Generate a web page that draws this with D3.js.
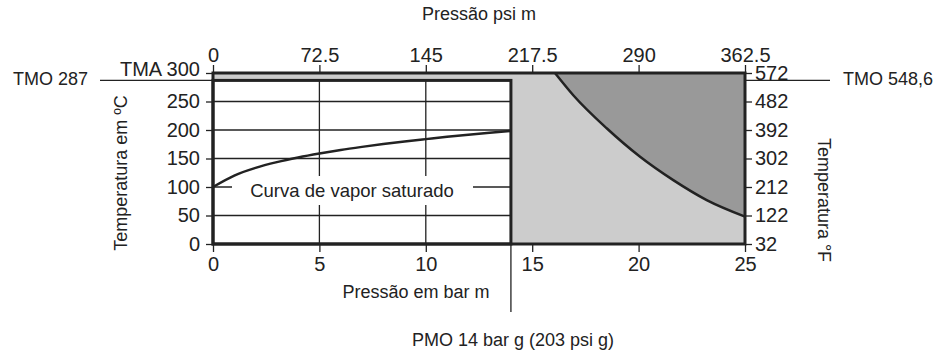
<!DOCTYPE html>
<html>
<head>
<meta charset="utf-8">
<script src="https://cdn.jsdelivr.net/npm/d3@7"></script>
<style>
  body { margin: 0; background: #fff; }
  svg { display: block; font-family: "Liberation Sans", Arial, sans-serif; }
  .axis text { font-size: 20px; fill: #222; }
  .axis line { stroke: #222; stroke-width: 1.3; }
  .axis path { display: none; }
</style>
</head>
<body>
<svg id="chart" width="943" height="354"></svg>
<script>
// saturated steam curve (bar g -> degC)
const satPressure = [0, 1, 2, 3, 4, 5, 6, 7, 8, 9, 10, 11, 12, 13, 14];
const satTemp = [100, 120, 133.5, 143.6, 151.8, 158.8, 165, 170.4, 175.4, 179.9, 184, 188, 191.6, 195, 198.3];

// limit curve bounding the dark region
const limPressure = [16.07, 16.93, 18.5, 20.07, 21.63, 23.2, 25];
const limTemp = [300, 261, 203, 153, 112, 77, 48];

const barTicks = [0, 5, 10, 15, 20, 25];
const psiTicks = [0, 72.5, 145, 217.5, 290, 362.5];
const celsiusTicks = [0, 50, 100, 150, 200, 250, 300];
const fahrenheitTicks = [32, 122, 212, 302, 392, 482, 572];

const pmo = 14;   // bar g
const tmo = 287;  // degC
const tma = 300;

const svg = d3.select('#chart');
const ink = '#222';

const x = d3.scaleLinear().domain([0, 25]).range([213, 745]);
const xPsi = d3.scaleLinear().domain([0, 362.5]).range([213, 745]);
const y = d3.scaleLinear().domain([0, 300]).range([244, 73]);
const yF = d3.scaleLinear().domain([32, 572]).range([244, 73]);

// background regions
svg.append('rect')
  .attr('x', x(0)).attr('y', y(tma))
  .attr('width', x(25) - x(0)).attr('height', y(0) - y(tma))
  .attr('fill', '#cccccc');

const area = d3.area()
  .x((d, i) => x(limPressure[i]))
  .y0(y(tma))
  .y1((d, i) => y(limTemp[i]))
  .curve(d3.curveMonotoneX);
svg.append('path').datum(limTemp).attr('d', area).attr('fill', '#999999');

svg.append('rect')
  .attr('x', x(0)).attr('y', y(tmo))
  .attr('width', x(pmo) - x(0)).attr('height', y(0) - y(tmo))
  .attr('fill', '#fff');

// grid inside working area
const grid = svg.append('g').attr('stroke', ink).attr('stroke-width', 1.3);
grid.selectAll('line.h').data([50, 100, 150, 200, 250]).join('line')
  .attr('x1', x(0)).attr('x2', x(pmo))
  .attr('y1', d => y(d)).attr('y2', d => y(d));
grid.selectAll('line.v').data([5, 10]).join('line')
  .attr('x1', d => x(d)).attr('x2', d => x(d))
  .attr('y1', y(tmo)).attr('y2', y(0));

// curve label with white box
svg.append('rect')
  .attr('x', 232).attr('y', 176).attr('width', 241).attr('height', 29)
  .attr('fill', '#fff');
svg.append('text')
  .attr('x', 352).attr('y', 197)
  .attr('text-anchor', 'middle')
  .attr('font-size', 18.5).attr('fill', ink)
  .text('Curva de vapor saturado');

const line = d3.line()
  .x((d, i) => x(satPressure[i]))
  .y(d => y(d))
  .curve(d3.curveMonotoneX);
svg.append('path').datum(satTemp).attr('d', line)
  .attr('fill', 'none').attr('stroke', ink).attr('stroke-width', 2.5);

const limLine = d3.line()
  .x((d, i) => x(limPressure[i]))
  .y(d => y(d))
  .curve(d3.curveMonotoneX);
svg.append('path').datum(limTemp).attr('d', limLine)
  .attr('fill', 'none').attr('stroke', ink).attr('stroke-width', 2.5);

// frames
svg.append('rect')
  .attr('x', x(0)).attr('y', y(tmo))
  .attr('width', x(pmo) - x(0)).attr('height', y(0) - y(tmo))
  .attr('fill', 'none').attr('stroke', ink).attr('stroke-width', 3);
svg.append('rect')
  .attr('x', x(0)).attr('y', y(tma))
  .attr('width', x(25) - x(0)).attr('height', y(0) - y(tma))
  .attr('fill', 'none').attr('stroke', ink).attr('stroke-width', 3);

// axes
svg.append('g').attr('class', 'axis')
  .attr('transform', `translate(0,${y(0)})`)
  .call(d3.axisBottom(x).tickValues(barTicks).tickSize(8).tickPadding(5));

svg.append('g').attr('class', 'axis')
  .attr('transform', `translate(0,${y(tma)})`)
  .call(d3.axisTop(xPsi).tickValues(psiTicks).tickSize(8).tickPadding(3)
    .tickFormat(d => String(d)));

svg.append('g').attr('class', 'axis')
  .attr('transform', `translate(${x(0)},0)`)
  .call(d3.axisLeft(y).tickValues(celsiusTicks).tickSize(7).tickPadding(6)
    .tickFormat(d => d === tma ? 'TMA ' + d : d))
  .selectAll('text').filter(d => d === tma).attr('dy', '0.1em');

svg.append('g').attr('class', 'axis')
  .attr('transform', `translate(${x(25)},0)`)
  .call(d3.axisRight(yF).tickValues(fahrenheitTicks).tickSize(7).tickPadding(3));

// TMO / PMO markers
const marks = svg.append('g').attr('stroke', ink).attr('stroke-width', 1.3);
marks.append('line').attr('x1', 100).attr('x2', x(0)).attr('y1', y(tmo)).attr('y2', y(tmo));
marks.append('line').attr('x1', x(25)).attr('x2', 830).attr('y1', y(tmo)).attr('y2', y(tmo));
marks.append('line').attr('x1', x(pmo)).attr('x2', x(pmo)).attr('y1', y(0)).attr('y2', 312);

const label = (tx, ty, s, anchor, rot) => {
  const t = svg.append('text')
    .attr('font-size', 18).attr('fill', ink)
    .attr('text-anchor', anchor || 'middle')
    .attr('dominant-baseline', 'middle')
    .text(s);
  if (rot) t.attr('transform', `translate(${tx},${ty}) rotate(${rot})`);
  else t.attr('x', tx).attr('y', ty);
};

label(88, y(tmo), 'TMO 287', 'end');
label(843, y(tmo), 'TMO 548,6', 'start');
label(479, 15, 'Pressão psi m');
label(416, 293, 'Pressão em bar m');
label(513, 341, 'PMO 14 bar g (203 psi g)');
label(122, 173, 'Temperatura em ºC', 'middle', -90);
label(823, 200, 'Temperatura °F', 'middle', 90);
</script>
</body>
</html>
